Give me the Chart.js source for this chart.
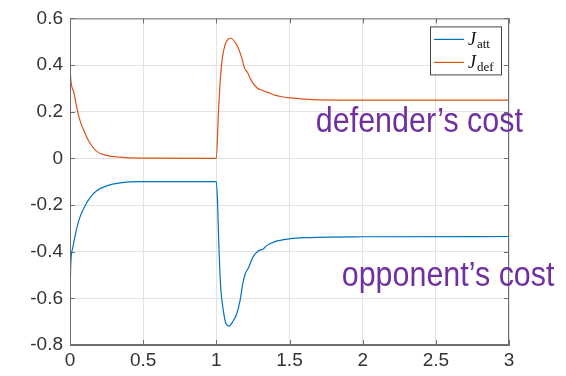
<!DOCTYPE html>
<html>
<head>
<meta charset="utf-8">
<script src="https://cdn.jsdelivr.net/npm/chart.js@4/dist/chart.umd.min.js"></script>
<style>
  html, body { margin: 0; padding: 0; background: #fff; }
  #wrap { width: 566px; height: 376px; }
</style>
</head>
<body>
<div id="wrap"><canvas id="chart" width="566" height="376"></canvas></div>
<script>
// values
var defX = [0, 0.003, 0.023, 0.046, 0.068, 0.103, 0.137, 0.182, 0.25, 0.342, 0.48, 1.0,
            1.014, 1.025, 1.041, 1.06, 1.082, 1.1, 1.128, 1.15, 1.174, 1.192, 1.214, 1.241, 1.275,
            1.321, 1.367, 1.4, 1.45, 1.504, 1.6, 1.709, 2.0, 3.0];
var defY = [0.483, 0.36, 0.29, 0.219, 0.163, 0.107, 0.065, 0.03, 0.013, 0.005, 0.001, 0,
            0.19, 0.318, 0.43, 0.487, 0.512, 0.515, 0.498, 0.473, 0.43, 0.388, 0.367, 0.332, 0.304,
            0.29, 0.279, 0.271, 0.264, 0.259, 0.254, 0.251, 0.25, 0.25];

var attX = [0, 0.005, 0.018, 0.046, 0.068, 0.103, 0.137, 0.182, 0.25, 0.342, 0.48, 1.0,
            1.009, 1.018, 1.03, 1.048, 1.066, 1.087, 1.11, 1.139, 1.162, 1.18, 1.196, 1.219, 1.253,
            1.287, 1.321, 1.344, 1.4, 1.5, 1.6, 2.0, 3.0];
var attY = [-0.639, -0.456, -0.386, -0.30, -0.252, -0.203, -0.168, -0.139, -0.118, -0.105, -0.1, -0.1,
            -0.2, -0.386, -0.554, -0.653, -0.709, -0.719, -0.702, -0.667, -0.61, -0.54, -0.498, -0.47, -0.42,
            -0.397, -0.388, -0.374, -0.357, -0.345, -0.34, -0.336, -0.335];

var seriesNames = [['J', 'att'], ['J', 'def']];
var seriesColors = ['#0072BD', '#D95319'];

var xTicks = [0, 0.5, 1, 1.5, 2, 2.5, 3];
var yTicks = [-0.8, -0.6, -0.4, -0.2, 0, 0.2, 0.4, 0.6];

// text labels placed in data units: [text, x, y]
var notes = [['defender\u2019s cost', 1.68, 0.115], ['opponent\u2019s cost', 1.857, -0.547]];

function toPoints(xs, ys) {
    var pts = [];
    for (var i = 0; i < xs.length; i++) {
        pts.push({x: xs[i], y: ys[i]});
    }
    return pts;
}

document.addEventListener("DOMContentLoaded", function() {
    var boxPlugin = {
        id: 'box',
        afterDatasetsDraw: function(chart) {
            var c = chart.ctx, a = chart.chartArea;
            var xs = chart.scales.x, ys = chart.scales.y;
            c.save();
            c.strokeStyle = '#6e6e6e';
            c.lineWidth = 1;
            c.strokeRect(a.left + 0.5, a.top + 0.5, a.right - a.left - 1, a.bottom - a.top - 1);
            c.beginPath();
            xTicks.forEach(function(v) {
                var px = Math.round(xs.getPixelForValue(v)) + 0.5;
                c.moveTo(px, a.bottom); c.lineTo(px, a.bottom - 5);
                c.moveTo(px, a.top); c.lineTo(px, a.top + 5);
            });
            yTicks.forEach(function(v) {
                var py = Math.round(ys.getPixelForValue(v)) + 0.5;
                c.moveTo(a.left, py); c.lineTo(a.left + 5, py);
                c.moveTo(a.right, py); c.lineTo(a.right - 5, py);
            });
            c.stroke();

            // legend
            var bx = a.right - 79, by = a.top + 8, bw = 71, bh = 48;
            c.fillStyle = '#fff';
            c.fillRect(bx, by, bw, bh);
            c.strokeStyle = '#444';
            c.strokeRect(bx + 0.5, by + 0.5, bw, bh);
            for (var i = 0; i < seriesNames.length; i++) {
                var ly = by + 13 + i * 23;
                c.strokeStyle = seriesColors[i];
                c.lineWidth = 1.2;
                c.beginPath();
                c.moveTo(bx + 4, ly); c.lineTo(bx + 34, ly);
                c.stroke();
                c.fillStyle = '#111';
                c.textBaseline = 'alphabetic';
                c.textAlign = 'left';
                c.font = 'italic 18px "Liberation Serif"';
                c.fillText(seriesNames[i][0], bx + 38, ly + 6);
                var jw = c.measureText(seriesNames[i][0]).width;
                c.font = '13px "Liberation Serif"';
                c.fillText(seriesNames[i][1], bx + 39 + jw, ly + 9);
            }

            // purple notes
            c.fillStyle = '#7030A0';
            c.font = '35px "Liberation Sans"';
            notes.forEach(function(n) {
                c.save();
                c.translate(xs.getPixelForValue(n[1]), ys.getPixelForValue(n[2]));
                c.scale(0.87, 1);
                c.fillText(n[0], 0, 0);
                c.restore();
            });
            c.restore();
        }
    };

    var ctx = document.getElementById('chart').getContext('2d');
    new Chart(ctx, {
        type: 'line',
        data: {
            datasets: [{
                label: 'J_att',
                data: toPoints(attX, attY),
                borderColor: seriesColors[0],
                borderWidth: 1.2,
                pointRadius: 0,
                cubicInterpolationMode: 'monotone'
            }, {
                label: 'J_def',
                data: toPoints(defX, defY),
                borderColor: seriesColors[1],
                borderWidth: 1.2,
                pointRadius: 0,
                cubicInterpolationMode: 'monotone'
            }]
        },
        options: {
            responsive: false,
            animation: false,
            devicePixelRatio: 1,
            layout: { padding: { left: 0, right: 57, top: 13, bottom: 0 } },
            plugins: { legend: { display: false }, tooltip: { enabled: false } },
            scales: {
                x: {
                    type: 'linear',
                    min: 0,
                    max: 3,
                    afterBuildTicks: function(scale) {
                        scale.ticks = xTicks.map(function(v) { return {value: v}; });
                    },
                    afterFit: function(scale) { scale.height = 31; },
                    ticks: {
                        color: '#333',
                        font: { family: '"Liberation Sans"', size: 19 },
                        padding: 4,
                        maxRotation: 0,
                        callback: function(v) { return String(v); }
                    },
                    grid: { color: '#e3e3e3', drawTicks: false },
                    border: { color: '#6e6e6e' }
                },
                y: {
                    min: -0.8,
                    max: 0.6,
                    afterBuildTicks: function(scale) {
                        scale.ticks = yTicks.map(function(v) { return {value: v}; });
                    },
                    afterFit: function(scale) { scale.width = 70; },
                    ticks: {
                        color: '#333',
                        font: { family: '"Liberation Sans"', size: 19 },
                        padding: 7,
                        callback: function(v) { return String(Math.round(v * 10) / 10); }
                    },
                    grid: { color: '#e3e3e3', drawTicks: false },
                    border: { color: '#6e6e6e' }
                }
            }
        },
        plugins: [boxPlugin]
    });
});
</script>
</body>
</html>
